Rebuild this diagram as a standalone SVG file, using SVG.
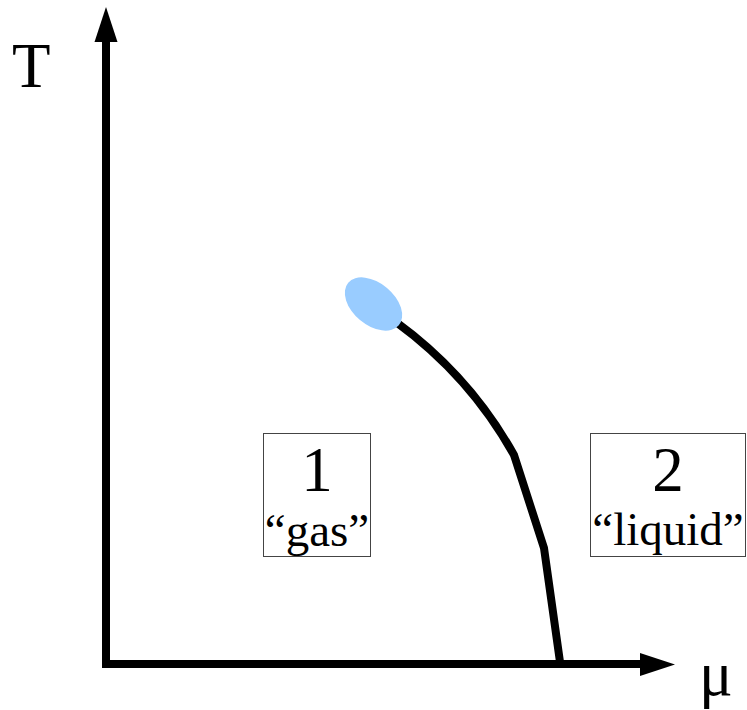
<svg xmlns="http://www.w3.org/2000/svg" width="747" height="710" viewBox="0 0 747 710">
  <style>
    .box { fill: #fff; stroke: #444; stroke-width: 1; }
    .axis { fill: none; stroke: #000; stroke-width: 8; stroke-linejoin: miter; }
    .head { fill: #000; }
    .curve { fill: none; stroke: #000; stroke-width: 8; stroke-linejoin: round; }
  </style>
  <rect width="747" height="710" fill="#fff"/>
  <g id="connectors">
    <path class="axis" d="M106 40 L106 664 L642 664"/>
    <polygon class="head" points="106,7 117.5,42 94.5,42"/>
    <polygon class="head" points="675,664.5 640,653 640,676"/>
    <path class="curve" d="M396 322 Q470 376 514 455 L544 548 L560 662"/>
  </g>
  <g id="axis-T"><text transform="translate(12 87) scale(1.26)" x="0" y="0" font-size="50" font-family="Liberation Serif">T</text></g>
  <g id="axis-mu"><text transform="translate(699 695) scale(1.26)" x="0" y="0" font-size="50" font-family="Liberation Serif">μ</text></g>
  <g id="critical-point">
    <ellipse cx="373.5" cy="304" rx="33" ry="21" transform="rotate(40 373.5 304)" fill="#99ccff"/>
  </g>
  <g id="phase-1">
    <rect class="box" x="263.5" y="433.5" width="107" height="123"/>
    <text transform="translate(317 491) scale(1.26)" x="0" y="0" text-anchor="middle" font-size="50" font-family="Liberation Serif">1</text>
    <text x="317" y="546" text-anchor="middle" font-size="47" font-family="Liberation Serif">“gas”</text>
  </g>
  <g id="phase-2">
    <rect class="box" x="590.5" y="433.5" width="155" height="123"/>
    <text transform="translate(668 491) scale(1.26)" x="0" y="0" text-anchor="middle" font-size="50" font-family="Liberation Serif">2</text>
    <text x="668" y="545" text-anchor="middle" font-size="47" font-family="Liberation Serif">“liquid”</text>
  </g>
</svg>
